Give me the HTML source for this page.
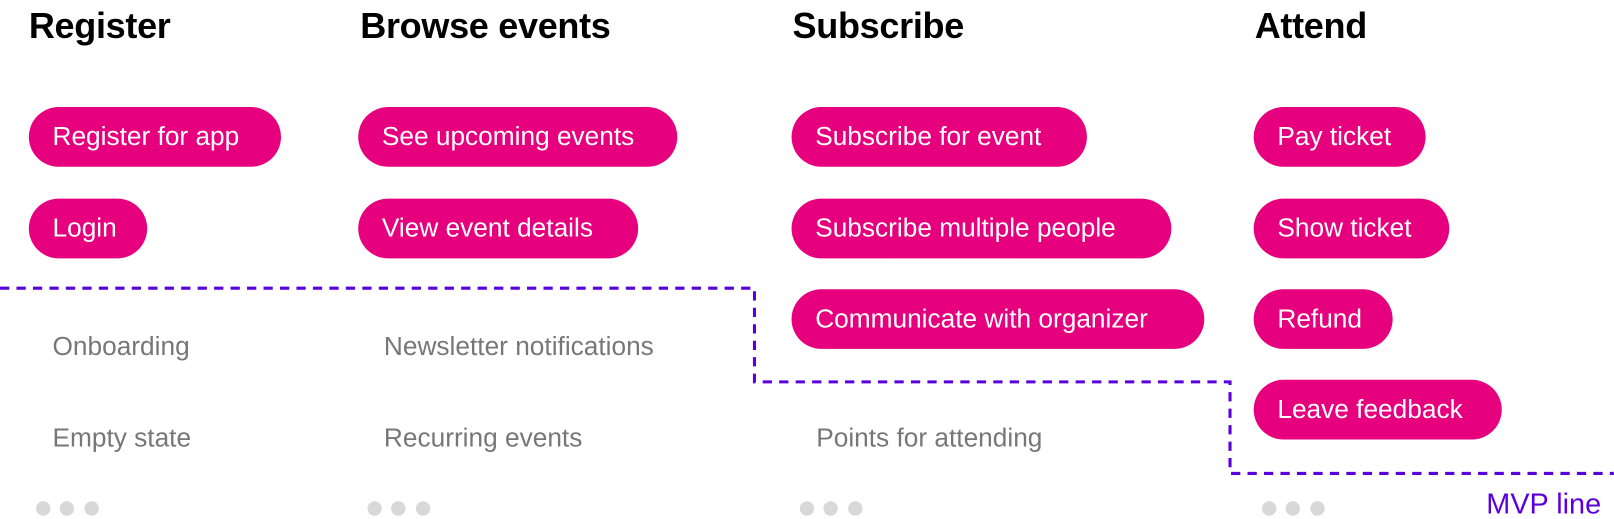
<!DOCTYPE html>
<html><head><meta charset="utf-8"><style>
html,body{margin:0;padding:0;background:#fff;overflow:hidden}
#w{position:relative;width:1568px;height:504px;transform:scale(1.0293);transform-origin:0 0;font-family:"Liberation Sans",sans-serif}
.h{position:absolute;top:6px;font-size:35px;font-weight:bold;color:#000;letter-spacing:-0.3px}
.p{position:absolute;height:58px;line-height:58px;border-radius:29px;background:#e6007e;color:#fff;font-size:25.5px;padding-left:23px;box-sizing:border-box;white-space:nowrap}
.g{position:absolute;font-size:25.5px;color:#777;white-space:nowrap}
.d{position:absolute;width:14px;height:14px;border-radius:50%;background:#d8d8d8}
</style></head><body><div id="w">
<div class="h" style="left:28px">Register</div>
<div class="h" style="left:350px">Browse events</div>
<div class="h" style="left:770px">Subscribe</div>
<div class="h" style="left:1219px">Attend</div>

<div class="p" style="left:28px;top:104px;width:245px">Register for app</div>
<div class="p" style="left:28px;top:193px;width:115px">Login</div>
<div class="p" style="left:348px;top:104px;width:310px">See upcoming events</div>
<div class="p" style="left:348px;top:193px;width:272px">View event details</div>
<div class="p" style="left:769px;top:104px;width:287px">Subscribe for event</div>
<div class="p" style="left:769px;top:193px;width:369px">Subscribe multiple people</div>
<div class="p" style="left:769px;top:281px;width:401px">Communicate with organizer</div>
<div class="p" style="left:1218px;top:104px;width:167px">Pay ticket</div>
<div class="p" style="left:1218px;top:193px;width:190px">Show ticket</div>
<div class="p" style="left:1218px;top:281px;width:135px">Refund</div>
<div class="p" style="left:1218px;top:369px;width:241px">Leave feedback</div>

<div class="g" style="left:51px;top:323px">Onboarding</div>
<div class="g" style="left:51px;top:412px">Empty state</div>
<div class="g" style="left:373px;top:323px">Newsletter notifications</div>
<div class="g" style="left:373px;top:412px">Recurring events</div>
<div class="g" style="left:793px;top:412px">Points for attending</div>

<div class="d" style="left:35px;top:487px"></div><div class="d" style="left:58px;top:487px"></div><div class="d" style="left:82px;top:487px"></div>
<div class="d" style="left:357px;top:487px"></div><div class="d" style="left:380px;top:487px"></div><div class="d" style="left:404px;top:487px"></div>
<div class="d" style="left:777px;top:487px"></div><div class="d" style="left:800px;top:487px"></div><div class="d" style="left:824px;top:487px"></div>
<div class="d" style="left:1226px;top:487px"></div><div class="d" style="left:1249px;top:487px"></div><div class="d" style="left:1273px;top:487px"></div>

<svg style="position:absolute;left:0;top:0" width="1568" height="504">
<polyline points="0,280 733,280 733,371 1195,371 1195,460 1568,460" fill="none" stroke="#5a00dc" stroke-width="3" stroke-dasharray="9,7"/>
</svg>
<div style="position:absolute;left:1444px;top:474px;font-size:28px;color:#5a00dc;white-space:nowrap">MVP line</div>
</div></body></html>
